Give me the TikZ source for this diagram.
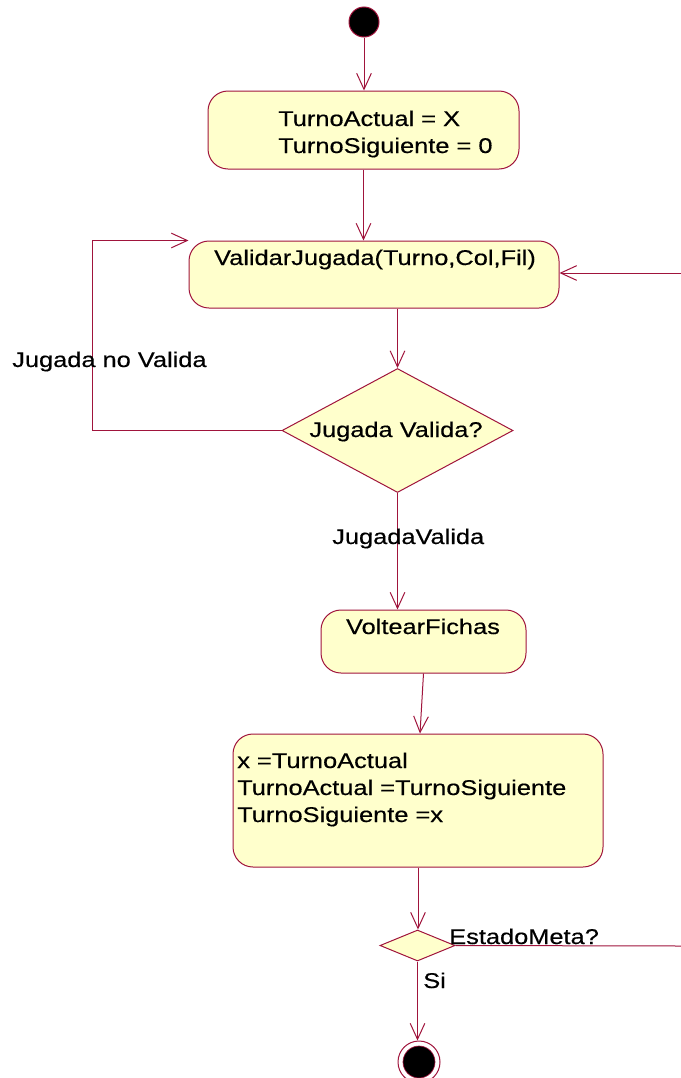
\documentclass[tikz,border=0pt]{standalone}
\usepackage{fontspec}
\setmainfont[FakeStretch=1.19,FakeBold=0.4]{Liberation Sans}
\usetikzlibrary{shapes.geometric,arrows.meta,calc}

\definecolor{linea}{RGB}{160,20,60}
\definecolor{relleno}{RGB}{255,255,204}
\newcommand{\px}{0.75pt}

\tikzset{
  actividad/.style={draw=linea, fill=relleno, rounded corners=15pt, line width=0.75pt},
  decision/.style={diamond, draw=linea, fill=relleno, line width=0.75pt, inner sep=0pt},
  inicial/.style={circle, draw=linea, fill=black, line width=0.75pt, inner sep=0pt, minimum size=30*\px},
  texto/.style={font=\fontsize{16pt}{20.25pt}\selectfont, inner sep=0pt},
  trazo/.style={draw=linea, line width=0.75pt},
  flecha/.style={trazo, -{Straight Barb[length=12pt,width=11pt]}}
}

\begin{document}
\begin{tikzpicture}[x=0.75pt, y=-0.75pt]
  \path[use as bounding box, fill=white] (0,0) rectangle (681,1078);

  % estados y decisiones
  \node[inicial] (inicio) at (364,22) {};
  \node[actividad, minimum width=311*\px, minimum height=78*\px] (ini) at (363.5,130) {};
  \node[actividad, minimum width=370*\px, minimum height=67*\px] (validar) at (374,274.5) {};
  \node[decision, minimum width=231*\px, minimum height=124*\px] (esvalida) at (397.5,430.5) {};
  \node[actividad, minimum width=205*\px, minimum height=63*\px] (voltear) at (423.5,641.5) {};
  \node[actividad, minimum width=370*\px, minimum height=133*\px] (cambio) at (418,800.5) {};
  \node[decision, minimum width=75*\px, minimum height=31*\px] (meta) at (417.5,945.5) {};
  \node[circle, draw=linea, fill=white, line width=0.75pt, inner sep=0pt, minimum size=42*\px] (fin) at (419,1062) {};
  \fill[black, draw=linea, line width=0.5pt] (fin.center) circle[radius=12pt];

  % textos de los estados
  \node[texto, align=left, anchor=base west] (iniTxt) at (278,153) {TurnoActual = X\\TurnoSiguiente = 0};
  \node[texto, anchor=base] (validarTxt) at (375,265) {ValidarJugada(Turno,Col,Fil)};
  \node[texto, anchor=base] (esvalidaTxt) at (396,437) {Jugada Valida?};
  \node[texto, anchor=base] (voltearTxt) at (423,634) {VoltearFichas};
  \node[texto, align=left, anchor=base west] (cambioTxt) at (237,822)
    {x =TurnoActual\\TurnoActual =TurnoSiguiente\\TurnoSiguiente =x};

  % extremos sueltos
  \coordinate (derecha) at (681,273);
  \coordinate (salida) at (681,946);

  % transiciones
  \draw[flecha] (inicio.south) -- (inicio.south |- ini.north);
  \draw[flecha] (ini.south) -- (ini.south |- validar.north);
  \draw[flecha] (derecha) -- (validar.east |- derecha);
  \draw[flecha] (validar.south -| esvalida.north) -- (esvalida.north);
  \draw[flecha] (esvalida.west) -- ++(-189,0) |- (validar.north west);
  \draw[flecha] (esvalida.south) -- (esvalida.south |- voltear.north);
  \draw[flecha] (voltear.south) -- ($(cambio.north)+(2,0)$);
  \draw[flecha] (cambio.south) -- (cambio.south |- meta.north);
  \draw[trazo] (meta.east) -- (salida);
  \draw[flecha] (meta.south) -- (meta.south |- fin.north);

  % etiquetas de las transiciones
  \node[texto, anchor=base west] (noValida) at (12,367) {Jugada no Valida};
  \node[texto, anchor=base west] (siValida) at (332,544) {JugadaValida};
  \node[texto, anchor=base west] (metaTxt) at (449,944) {EstadoMeta?};
  \node[texto, anchor=base west] (siTxt) at (423,988) {Si};
\end{tikzpicture}
\end{document}
